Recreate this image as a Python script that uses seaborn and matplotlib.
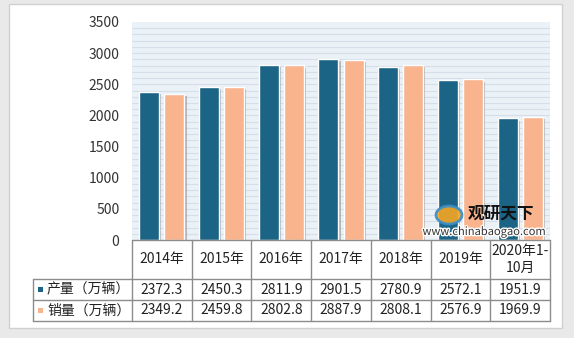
import matplotlib
matplotlib.use("Agg")
import matplotlib.pyplot as plt
import matplotlib.patheffects as pe
from matplotlib.patches import Rectangle, Ellipse
from matplotlib.lines import Line2D
import numpy as np
import pandas as pd
import seaborn as sns

categories = ["2014年", "2015年", "2016年", "2017年", "2018年", "2019年", "2020年1-\n10月"]
production = [2372.3, 2450.3, 2811.9, 2901.5, 2780.9, 2572.1, 1951.9]
sales = [2349.2, 2459.8, 2802.8, 2887.9, 2808.1, 2576.9, 1969.9]
series_names = ["产量（万辆）", "销量（万辆）"]
colors = ["#1B6485", "#F9B48E"]
yticks = [0, 500, 1000, 1500, 2000, 2500, 3000, 3500]

sns.set_theme(style="white")
plt.rcParams["font.family"] = ["Noto Sans CJK SC", "DejaVu Sans"]

W, H = 574, 338
fig = plt.figure(figsize=(W / 100, H / 100), dpi=100)
fig.patch.set_facecolor("#E9E9E9")

def fx(x):
    return x / W

def fy(y):
    return 1 - y / H

# white panel
panel = Rectangle((fx(9), fy(328)), fx(562) - fx(9), fy(4) - fy(328), transform=fig.transFigure,
                  facecolor="white", edgecolor="#D0D0D0", lw=1.0, zorder=-5)
fig.patches.append(panel)

x0, x1, ytop, ybot = 132, 550, 22, 240
ax = fig.add_axes([fx(x0), fy(ybot), fx(x1) - fx(x0), fy(ytop) - fy(ybot)])
ax.set_zorder(1)
ax.set_facecolor("#EAF1F7")

df = pd.DataFrame({
    "cat": categories * 2,
    "val": production + sales,
    "series": [series_names[0]] * len(categories) + [series_names[1]] * len(categories),
})
sns.barplot(data=df, x="cat", y="val", hue="series", palette=colors, ax=ax, saturation=1,
            width=0.84, gap=0.2, legend=False, edgecolor="white", linewidth=1.0, zorder=3)
for p in ax.patches:
    p.set_path_effects([pe.SimplePatchShadow(offset=(1.5, -1.5), shadow_rgbFace="#7F7F7F", alpha=0.5), pe.Normal()])

for v in np.arange(100, 3500, 100):
    ax.axhline(v, color="#D6DFE9", lw=0.8, zorder=1)

ax.set_ylim(0, 3500)
ax.set_xlim(-0.5, len(categories) - 0.5)
ax.set_yticks(yticks)
ax.set_yticklabels([str(t) for t in yticks], fontsize=10, color="#333333")
ax.set_xticks([])
ax.set_xlabel("")
ax.set_ylabel("")
ax.tick_params(axis="y", length=0, pad=9)
for s in ax.spines.values():
    s.set_visible(False)

# data table
lc = "#8C8C8C"
colw = (x1 - x0) / len(categories)
def line(xa, ya, xb, yb):
    fig.add_artist(Line2D([fx(xa), fx(xb)], [fy(ya), fy(yb)], transform=fig.transFigure,
                          color=lc, lw=1.0, zorder=5))

r0, r1, r2, r3 = 240, 279, 300, 321
lx = 33
line(x0, r0, x1, r0)
for yy in (r1, r2, r3):
    line(lx, yy, x1, yy)
for i in range(len(categories) + 1):
    line(x0 + i * colw, r0, x0 + i * colw, r3)
line(lx, r1, lx, r3)

for i, c in enumerate(categories):
    cx = x0 + (i + 0.5) * colw
    fig.text(fx(cx), fy((r0 + r1) / 2), c, ha="center", va="center", fontsize=10,
             color="#222222", linespacing=1.2)
    fig.text(fx(cx), fy((r1 + r2) / 2), f"{production[i]:.1f}", ha="center", va="center",
             fontsize=10, color="#222222")
    fig.text(fx(cx), fy((r2 + r3) / 2), f"{sales[i]:.1f}", ha="center", va="center",
             fontsize=10, color="#222222")

for k, (name, col) in enumerate(zip(series_names, colors)):
    yc = (r1 + r2) / 2 if k == 0 else (r2 + r3) / 2
    fig.patches.append(Rectangle((fx(38), fy(yc + 2.5)), fx(5), fy(0) - fy(5),
                                 transform=fig.transFigure, facecolor=col, edgecolor="none", zorder=6))
    fig.text(fx(47), fy(yc), name, ha="left", va="center", fontsize=10, color="#222222")

# watermark
fig.text(fx(468), fy(214), "观研天下", ha="left", va="center", fontsize=12, fontweight="bold",
         color="#111111", zorder=10)
fig.text(fx(546), fy(232), "www.chinabaogao.com", ha="right", va="center", fontsize=8,
         color="#333333", zorder=10,
         path_effects=[pe.withStroke(linewidth=2, foreground="white")])
fig.patches.append(Ellipse((fx(449), fy(215)), fx(26), fy(0) - fy(18),
                   transform=fig.transFigure, facecolor="#F5A623", edgecolor="#3A8FC8", lw=2, alpha=0.9, zorder=9))

fig.savefig("out.png", dpi=100, facecolor=fig.get_facecolor())
